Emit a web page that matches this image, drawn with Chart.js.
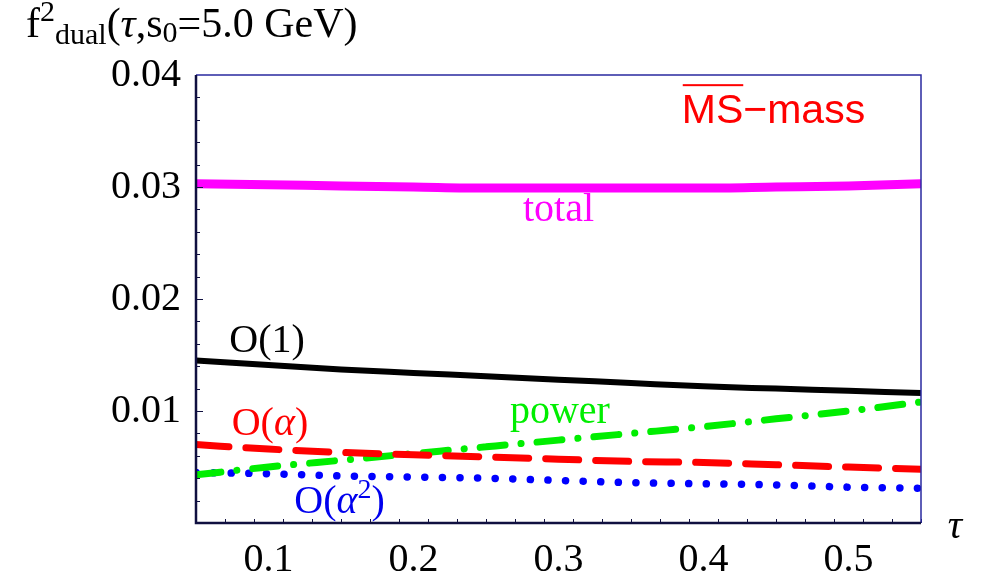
<!DOCTYPE html>
<html>
<head>
<meta charset="utf-8">
<script src="https://cdn.jsdelivr.net/npm/chart.js@4.4.1/dist/chart.umd.min.js"></script>
<style>
  html, body { margin: 0; padding: 0; background: #fff; }
  #wrap { width: 981px; height: 578px; position: relative; }
</style>
</head>
<body>
<div id="wrap"><canvas id="c" width="981" height="578"></canvas></div>
<script>
// tau grid and curves
var taus      = [0.05, 0.10, 0.15, 0.20, 0.25, 0.30, 0.35, 0.40, 0.45, 0.50, 0.55];
var total     = [0.0303, 0.0302, 0.0301, 0.0300, 0.0299, 0.0299, 0.0299, 0.0299, 0.0300, 0.0301, 0.0303];
var order1    = [0.0145, 0.0141, 0.0137, 0.0134, 0.0131, 0.0128, 0.0125, 0.0122, 0.0120, 0.0118, 0.0116];
var orderA    = [0.0070, 0.0066, 0.0063, 0.0061, 0.0059, 0.0057, 0.0055, 0.0054, 0.0052, 0.0050, 0.0048];
var orderA2   = [0.0045, 0.0044, 0.0042, 0.0041, 0.0040, 0.0038, 0.0036, 0.0035, 0.0034, 0.0032, 0.0031];
var power     = [0.0043, 0.0050, 0.0056, 0.0062, 0.0068, 0.0074, 0.0080, 0.0086, 0.0093, 0.0100, 0.0108];

var xTicks = [0.1, 0.2, 0.3, 0.4, 0.5];
var yTicks = [0.01, 0.02, 0.03, 0.04];

var SERIF = '"Liberation Serif", "Times New Roman", serif';
var SANS = '"Liberation Sans", Arial, sans-serif';

function pts(arr) {
  return arr.map(function (v, i) { return { x: taus[i], y: v }; });
}

function series(data, color, width, dash) {
  return {
    data: pts(data),
    borderColor: color,
    borderWidth: width,
    borderDash: dash || [],
    borderCapStyle: dash ? 'round' : 'butt',
    pointRadius: 0,
    fill: false,
    cubicInterpolationMode: 'monotone'
  };
}

// labels placed on the plot in data coordinates
var notes = [
  { text: 'total', x: 0.300, y: 0.0270, color: '#ff00ff' },
  { text: 'O(1)',  x: 0.099, y: 0.01527, color: '#000000' },
  { text: 'power', x: 0.301, y: 0.00893, color: '#00ee00' }
];

var framePlugin = {
  id: 'frame',
  afterDatasetsDraw: function (chart) {
    var ctx = chart.ctx, a = chart.chartArea;
    var xs = chart.scales.x, ys = chart.scales.y;
    ctx.save();

    // minor + major ticks pointing inward
    ctx.strokeStyle = '#101040';
    ctx.lineWidth = 1;
    var i, v, p;
    for (i = 0; i <= 25; i++) {
      v = 0.05 + i * 0.02;
      if (v > 0.551) break;
      p = Math.round(xs.getPixelForValue(v)) + 0.5;
      var major = Math.abs(v * 10 - Math.round(v * 10)) < 1e-6;
      ctx.beginPath(); ctx.moveTo(p, a.bottom); ctx.lineTo(p, a.bottom - (major ? 7 : 4)); ctx.stroke();
    }
    for (i = 1; i < 20; i++) {
      v = i * 0.002;
      p = Math.round(ys.getPixelForValue(v)) + 0.5;
      var majorY = i % 5 === 0;
      ctx.beginPath(); ctx.moveTo(a.left, p); ctx.lineTo(a.left + (majorY ? 7 : 4), p); ctx.stroke();
    }

    // frame
    ctx.strokeStyle = '#2a2aa0';
    ctx.lineWidth = 1.5;
    ctx.beginPath();
    ctx.moveTo(a.left, a.top); ctx.lineTo(a.right, a.top); ctx.lineTo(a.right, a.bottom);
    ctx.stroke();
    ctx.strokeStyle = '#101040';
    ctx.lineWidth = 2.5;
    ctx.beginPath();
    ctx.moveTo(a.left, a.top); ctx.lineTo(a.left, a.bottom); ctx.lineTo(a.right, a.bottom);
    ctx.stroke();

    // curve labels
    ctx.textAlign = 'center';
    ctx.textBaseline = 'alphabetic';
    ctx.font = '40px ' + SERIF;
    notes.forEach(function (n) {
      ctx.fillStyle = n.color;
      ctx.fillText(n.text, xs.getPixelForValue(n.x), ys.getPixelForValue(n.y));
    });

    // O(alpha) and O(alpha^2)
    drawRich(ctx, xs.getPixelForValue(0.101), ys.getPixelForValue(0.00786), '#ff0000', [
      { t: 'O(' }, { t: 'α', it: true }, { t: ')' }
    ], true, 40, 28);
    drawRich(ctx, xs.getPixelForValue(0.149), ys.getPixelForValue(0.00089), '#0000ee', [
      { t: 'O(' }, { t: 'α', it: true }, { t: '2', small: true, dy: -15 }, { t: ')' }
    ], true, 40, 28);

    // MS-bar mass
    ctx.font = '41px ' + SANS;
    ctx.fillStyle = '#ff0000';
    ctx.textAlign = 'left';
    var mx = xs.getPixelForValue(0.385), my = ys.getPixelForValue(0.0357);
    var msW = ctx.measureText('MS').width;
    ctx.fillText('MS\u2212mass', mx, my);
    ctx.fillRect(mx + 1, my - 39, msW - 1, 2);

    // tau axis label
    ctx.font = 'italic 40px ' + SERIF;
    ctx.fillStyle = '#000';
    ctx.textAlign = 'center';
    ctx.fillText('τ', 955, 538);

    // y-axis title with super/subscripts
    drawRich(ctx, 26, 37, '#000', [
      { t: 'f' }, { t: '2', small: true, dy: -16 }, { t: 'dual', small: true, dy: 7 },
      { t: '(' }, { t: 'τ', it: true }, { t: ',s' }, { t: '0', small: true, dy: 5 },
      { t: '=5.0 GeV)' }
    ], false, 42, 30);

    ctx.restore();
  }
};

function drawRich(ctx, x, y, color, parts, center, big, small) {
  function font(p) { return (p.it ? 'italic ' : '') + (p.small ? small : big) + 'px ' + SERIF; }
  var w = 0;
  parts.forEach(function (p) { ctx.font = font(p); w += ctx.measureText(p.t).width; });
  var cx = center ? x - w / 2 : x;
  ctx.fillStyle = color;
  ctx.textAlign = 'left';
  ctx.textBaseline = 'alphabetic';
  parts.forEach(function (p) {
    ctx.font = font(p);
    ctx.fillText(p.t, cx, y + (p.dy || 0));
    cx += ctx.measureText(p.t).width;
  });
}

new Chart(document.getElementById('c'), {
  type: 'line',
  data: {
    datasets: [
      series(total, '#ff00ff', 9),
      series(order1, '#000000', 6),
      series(orderA, '#ff0000', 7, [33, 17]),
      series(power, '#00ee00', 7, [25, 16, 0.1, 16]),
      series(orderA2, '#0000ff', 7.5, [0.1, 17.5])
    ]
  },
  options: {
    responsive: false,
    animation: false,
    layout: { padding: { left: 0, top: 75, right: 60, bottom: 0 } },
    plugins: { legend: { display: false }, tooltip: { enabled: false } },
    scales: {
      x: {
        type: 'linear',
        min: 0.05,
        max: 0.55,
        border: { display: false },
        grid: { display: false, drawTicks: false },
        afterBuildTicks: function (s) { s.ticks = xTicks.map(function (v) { return { value: v }; }); },
        afterFit: function (s) { s.height = 55; },
        ticks: {
          color: '#000',
          padding: 13,
          maxRotation: 0,
          font: { family: SERIF, size: 40 },
          callback: function (v) { return v.toFixed(1); }
        }
      },
      y: {
        min: 0,
        max: 0.04,
        border: { display: false },
        grid: { display: false, drawTicks: false },
        afterBuildTicks: function (s) { s.ticks = yTicks.map(function (v) { return { value: v }; }); },
        afterFit: function (s) { s.width = 196; },
        ticks: {
          color: '#000',
          padding: 15,
          font: { family: SERIF, size: 40 },
          callback: function (v) { return v.toFixed(2); }
        }
      }
    }
  },
  plugins: [framePlugin]
});
</script>
</body>
</html>
